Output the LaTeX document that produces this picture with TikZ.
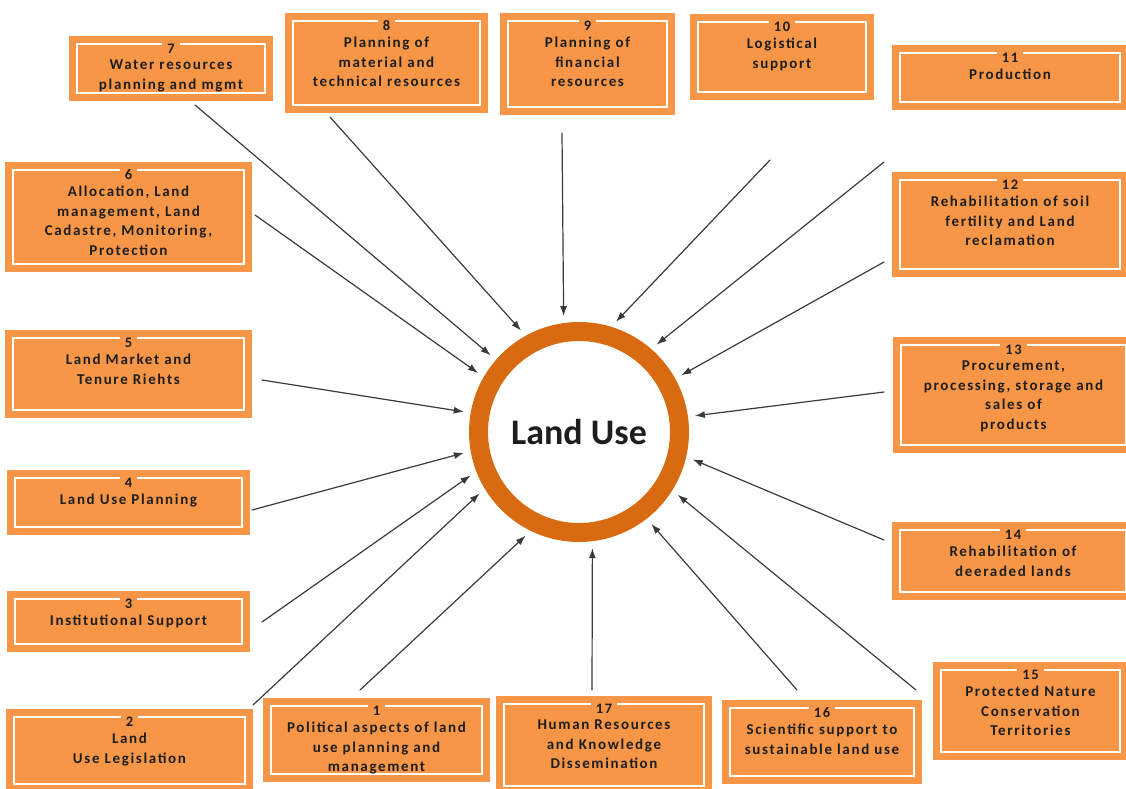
\documentclass[tikz,border=0pt]{standalone}
\usepackage{fontspec}
\usetikzlibrary{arrows.meta,positioning}

\newfontfamily\boxfont[LetterSpace=11]{Carlito}
\newfontfamily\ringfont{Carlito}
\definecolor{boxfill}{HTML}{F79646}
\definecolor{ringc}{HTML}{D86A12}
\definecolor{arrc}{HTML}{3A3A3A}
\definecolor{txtc}{HTML}{1E1E1E}

\begin{document}
\begin{tikzpicture}[x=1pt, y=-1pt, line cap=round, line join=round,
    box/.style={rectangle, fill=boxfill, draw=white, line width=2.5pt, line join=miter, outer sep=0pt,
      preaction={draw=boxfill, line width=16pt, line join=miter}},
    num/.style={fill=boxfill, text=txtc, inner xsep=5pt, inner ysep=1pt, font=\boxfont\bfseries\fontsize{14.5}{19.5}\selectfont},
    txt/.style={align=center, text=txtc, inner sep=0pt, font=\boxfont\bfseries\fontsize{15}{19.5}\selectfont},
    arr/.style={draw=arrc, line width=1.2pt, -{Latex[length=10pt, width=7pt]}, shorten >=7pt}]
    \useasboundingbox (0,0) rectangle (1126,789);
    \clip (0,0) rectangle (1126,789);

    % the ring in the middle
    \node[circle, draw=ringc, line width=19pt, minimum size=201pt, inner sep=0pt, text=txtc,
      font=\ringfont\bfseries\fontsize{36}{40}\selectfont] (lu) at (579,432) {Land Use};

    % left column
    \node[box, minimum width=188, minimum height=49] (b7) at (171,68.5) {};
    \node[num] (n7) at ([yshift=-5pt]b7.north) {7};
    \node[txt, below=5pt of n7] (t7) {Water resources\\planning and mgmt};

    \node[box, minimum width=231, minimum height=94] (b6) at (128.5,217) {};
    \node[num] (n6) at ([yshift=-5pt]b6.north) {6};
    \node[txt, below=5pt of n6] (t6) {Allocation, Land\\management, Land\\Cadastre, Monitoring,\\Protection};

    \node[box, minimum width=231, minimum height=72] (b5) at (128.5,374) {};
    \node[num] (n5) at ([yshift=-5pt]b5.north) {5};
    \node[txt, below=5pt of n5] (t5) {Land Market and\\Tenure Riehts};

    \node[box, minimum width=227, minimum height=49] (b4) at (128.5,502.5) {};
    \node[num] (n4) at ([yshift=-5pt]b4.north) {4};
    \node[txt, below=5pt of n4] (t4) {Land Use Planning};

    \node[box, minimum width=227, minimum height=45] (b3) at (128.5,621.5) {};
    \node[num] (n3) at ([yshift=-5pt]b3.north) {3};
    \node[txt, below=5pt of n3] (t3) {Institutional Support};

    \node[box, minimum width=231, minimum height=67] (b2) at (129.5,750.5) {};
    \node[num] (n2) at ([yshift=-5pt]b2.north) {2};
    \node[txt, below=5pt of n2] (t2) {Land\\Use Legislation};

    % top row
    \node[box, minimum width=187, minimum height=84] (b8) at (386.5,63) {};
    \node[num] (n8) at ([yshift=-5pt]b8.north) {8};
    \node[txt, below=5pt of n8] (t8) {Planning of\\material and\\technical resources};

    \node[box, minimum width=159, minimum height=86] (b9) at (587.5,64) {};
    \node[num] (n9) at ([yshift=-5pt]b9.north) {9};
    \node[txt, below=5pt of n9] (t9) {Planning of\\financial\\resources};

    \node[box, minimum width=168, minimum height=70] (b10) at (782,57) {};
    \node[num] (n10) at ([yshift=-5pt]b10.north) {10};
    \node[txt, below=5pt of n10] (t10) {Logistical\\support};

    % right column
    \node[box, minimum width=220, minimum height=49] (b11) at (1010,77.5) {};
    \node[num] (n11) at ([yshift=-5pt]b11.north) {11};
    \node[txt, below=5pt of n11] (t11) {Production};

    \node[box, minimum width=220, minimum height=89] (b12) at (1010,224.5) {};
    \node[num] (n12) at ([yshift=-5pt]b12.north) {12};
    \node[txt, below=5pt of n12] (t12) {Rehabilitation of soil\\fertility and Land\\reclamation};

    \node[box, minimum width=225, minimum height=100] (b13) at (1013.5,395) {};
    \node[num] (n13) at ([yshift=-5pt]b13.north) {13};
    \node[txt, below=5pt of n13] (t13) {Procurement,\\processing, storage and\\sales of\\products};

    \node[box, minimum width=226, minimum height=62] (b14) at (1013,561) {};
    \node[num] (n14) at ([yshift=-5pt]b14.north) {14};
    \node[txt, below=5pt of n14] (t14) {Rehabilitation of\\deeraded lands};

    \node[box, minimum width=179, minimum height=82] (b15) at (1030.5,711) {};
    \node[num] (n15) at ([yshift=-5pt]b15.north) {15};
    \node[txt, below=5pt of n15] (t15) {Protected Nature\\Conservation\\Territories};

    % bottom row
    \node[box, minimum width=184, minimum height=68] (b16) at (822,742) {};
    \node[num] (n16) at ([yshift=-5pt]b16.north) {16};
    \node[txt, below=5pt of n16] (t16) {Scientific support to\\sustainable land use};

    \node[box, minimum width=200, minimum height=82] (b17) at (604,745) {};
    \node[num] (n17) at ([yshift=-5pt]b17.north) {17};
    \node[txt, below=5pt of n17] (t17) {Human Resources\\and Knowledge\\Dissemination};

    \node[box, minimum width=211, minimum height=68] (b1) at (376.5,740) {};
    \node[num] (n1) at ([yshift=-5pt]b1.north) {1};
    \node[txt, below=5pt of n1] (t1) {Political aspects of land\\use planning and\\management};

    % loose ends of the arrows
    \coordinate (s1) at (360,690);
    \coordinate (s2) at (253,705);
    \coordinate (s3) at (262,622);
    \coordinate (s4) at (252,510);
    \coordinate (s5) at (262,380);
    \coordinate (s6) at (255,215);
    \coordinate (s7) at (195,105);
    \coordinate (s8) at (330,117);
    \coordinate (s9) at (562,133);
    \coordinate (s10) at (770,160);
    \coordinate (s11) at (884,162);
    \coordinate (s12) at (884,262);
    \coordinate (s13) at (884,392);
    \coordinate (s14) at (884,540);
    \coordinate (s15) at (916,690);
    \coordinate (s16) at (797,690);
    \coordinate (s17) at (592,690);

    \draw[arr] (s1) -- (lu.244);
    \draw[arr] (s2) -- (lu.211.5);
    \draw[arr] (s3) -- (lu.201.5);
    \draw[arr] (s4) -- (lu.190.5);
    \draw[arr] (s5) -- (lu.170);
    \draw[arr] (s6) -- (lu.150);
    \draw[arr] (s7) -- (lu.139);
    \draw[arr] (s8) -- (lu.119);
    \draw[arr] (s9) -- (lu.98.5);
    \draw[arr] (s10) -- (lu.73);
    \draw[arr] (s11) -- (lu.49);
    \draw[arr] (s12) -- (lu.29.6);
    \draw[arr] (s13) -- (lu.8);
    \draw[arr] (s14) -- (lu.347);
    \draw[arr] (s15) -- (lu.328);
    \draw[arr] (s16) -- (lu.308);
    \draw[arr] (s17) -- (lu.277);
\end{tikzpicture}
\end{document}
